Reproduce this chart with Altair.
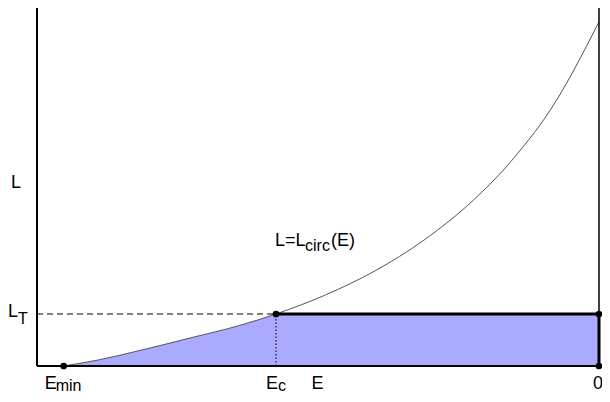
import altair as alt
import pandas as pd

# ---- data ----
E_curve = [-0.9525, -0.8910, -0.8207, -0.7276, -0.6397, -0.5747, -0.4868, -0.3989,
           -0.3111, -0.2232, -0.1652, -0.1353, -0.0949, -0.0475, -0.0351, 0.0]
L_curve = [0.0, 0.0164, 0.0410, 0.0765, 0.1107, 0.1421, 0.194, 0.2596,
           0.3443, 0.4536, 0.5437, 0.5984, 0.6803, 0.8005, 0.8361, 0.9399]

E_min = -0.9525
E_c = -0.5747
L_T = 0.1421
E_left = -1.0
E_right = 0.0
L_top = 0.978

point_E = [E_min, E_c, E_right, E_right]
point_L = [0.0, L_T, L_T, 0.0]

label_L_pos = 0.5       # height of the "L" axis label
label_E_pos = -0.5009   # position of the "E" axis label
curve_label_E = -0.5765
curve_label_L = 0.328

FONT = "Liberation Sans"
FILL = "#aaaaff"

curve = pd.DataFrame({"E": E_curve, "L": L_curve})
fill_part = curve[curve["E"] <= E_c + 1e-9].copy()
fill_part["L0"] = 0.0
points = pd.DataFrame({"E": point_E, "L": point_L})

xs = alt.Scale(domain=[E_left, E_right], nice=False, zero=False)
ys = alt.Scale(domain=[0, L_top], nice=False, zero=False)


def xq(f):
    return alt.X(f + ":Q", scale=xs, axis=None)


def yq(f):
    return alt.Y(f + ":Q", scale=ys, axis=None)


area = alt.Chart(fill_part).mark_area(color=FILL, interpolate="monotone").encode(
    x=xq("E"), y=yq("L"), y2="L0:Q"
)

rect = alt.Chart(pd.DataFrame({"e1": [E_c], "e2": [E_right], "l1": [0.0], "l2": [L_T]})).mark_rect(
    color=FILL).encode(x=xq("e1"), x2="e2:Q", y=yq("l1"), y2="l2:Q")

line = alt.Chart(curve).mark_line(color="#555555", strokeWidth=1, interpolate="monotone").encode(
    x=xq("E"), y=yq("L")
)


def hrule(e1, e2, l, **kw):
    df = pd.DataFrame({"e1": [e1], "e2": [e2], "l": [l]})
    return alt.Chart(df).mark_rule(color="black", **kw).encode(
        x=xq("e1"), x2="e2:Q", y=yq("l")
    )


def vrule(e, l1, l2, **kw):
    df = pd.DataFrame({"e": [e], "l1": [l1], "l2": [l2]})
    return alt.Chart(df).mark_rule(color="black", **kw).encode(
        x=xq("e"), y=yq("l1"), y2="l2:Q"
    )


dashed = hrule(E_left, E_c, L_T, strokeWidth=1, strokeDash=[6, 4])
dotted = vrule(E_c, 0.0, L_T, strokeWidth=1, strokeDash=[1.5, 2])
thick_top = hrule(E_c, E_right, L_T, strokeWidth=3)
right_thin = vrule(E_right, 0.0, L_top, strokeWidth=1.5)
right_thick = vrule(E_right, 0.0, L_T, strokeWidth=3)
left_axis = vrule(E_left, 0.0, L_top, strokeWidth=2)
bottom_axis = hrule(E_left, E_right, 0.0, strokeWidth=2)

dots = alt.Chart(points).mark_circle(color="black", size=45, opacity=1).encode(
    x=xq("E"), y=yq("L")
)


def txt(text, e, l, dx, dy, size=18, align="left", baseline="alphabetic"):
    df = pd.DataFrame({"E": [e], "L": [l], "t": [text]})
    return alt.Chart(df).mark_text(
        dx=dx, dy=dy, fontSize=size, font=FONT, align=align,
        baseline=baseline, color="black", clip=False
    ).encode(x=xq("E"), y=yq("L"), text="t:N")


texts = [
    txt("L", E_left, label_L_pos, -21, 0, align="center", baseline="middle"),
    txt("E", label_E_pos, 0.0, 0, 23, align="center"),
    txt("L", E_left, L_T, -29, 3),
    txt("T", E_left, L_T, -19, 10, size=16),
    txt("E", E_min, 0.0, -19, 23),
    txt("min", E_min, 0.0, -8, 25, size=16),
    txt("E", E_c, 0.0, -10, 23),
    txt("c", E_c, 0.0, 2, 25, size=16),
    txt("0", E_right, 0.0, -1, 23, align="center"),
    txt("L=L", curve_label_E, curve_label_L, 0, 0),
    txt("circ", curve_label_E, curve_label_L, 30, 5, size=16),
    txt("(E)", curve_label_E, curve_label_L, 56, 0),
]

chart = alt.layer(
    area, rect, line, dashed, dotted, right_thin, left_axis, bottom_axis,
    thick_top, right_thick, dots, *texts
).properties(
    width=562, height=358,
    padding={"left": 29, "top": 0, "right": 3, "bottom": 28},
    autosize=alt.AutoSizeParams(type="none"),
).configure_view(stroke=None)

chart.save("out.html", embed_options={"renderer": "svg", "actions": False})
